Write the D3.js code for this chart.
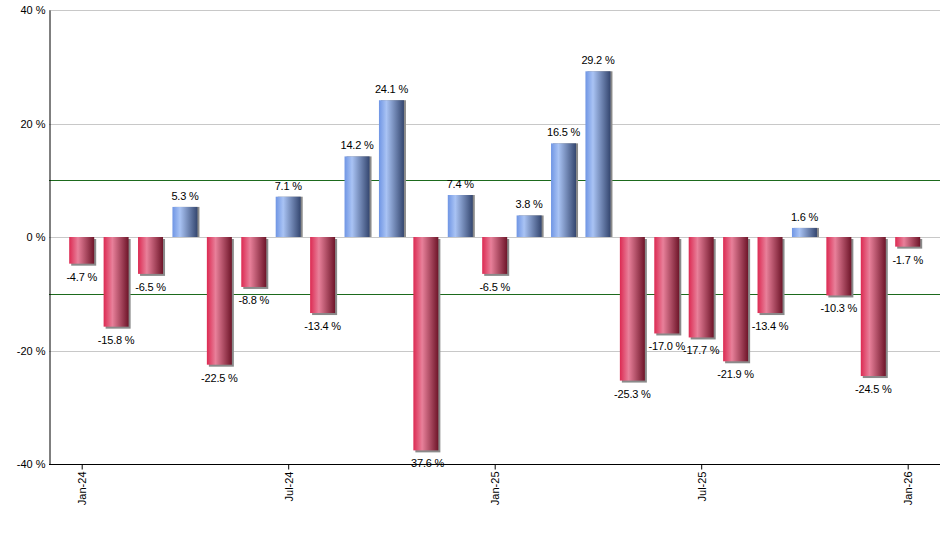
<!DOCTYPE html>
<html><head><meta charset="utf-8">
<script src="https://cdn.jsdelivr.net/npm/d3@7"></script>
<style>
body{margin:0;background:#fff;}
text{font-family:"Liberation Sans",Arial,sans-serif;font-size:11px;fill:#000;}
</style></head>
<body><svg id="c" width="940" height="550"></svg>
<script>
const months = ["Jan-24","Feb-24","Mar-24","Apr-24","May-24","Jun-24","Jul-24","Aug-24","Sep-24","Oct-24","Nov-24","Dec-24",
"Jan-25","Feb-25","Mar-25","Apr-25","May-25","Jun-25","Jul-25","Aug-25","Sep-25","Oct-25","Nov-25","Dec-25","Jan-26"];
const values = [-4.7,-15.8,-6.5,5.3,-22.5,-8.8,7.1,-13.4,14.2,24.1,-37.6,7.4,-6.5,3.8,16.5,29.2,-25.3,-17.0,-17.7,-21.9,-13.4,1.6,-10.3,-24.5,-1.7];
const xTickLabels = ["Jan-24","Jul-24","Jan-25","Jul-25","Jan-26"];
const yTicks = [-40,-20,0,20,40];
const refLines = [-10,10];

const svg = d3.select("#c");
const pLeft = 49, pRight = 940, pTop = 10, pBottom = 464;
const x = d3.scalePoint().domain(months).range([81.7, 907.7]);
const y = d3.scaleLinear().domain([-40,40]).range([pBottom, pTop]);
const bw = 25;
const fmt = v => v.toFixed(1) + " %";

const defs = svg.append("defs");
function grad(id, stops){
  const g = defs.append("linearGradient").attr("id",id).attr("x1","0").attr("x2","1").attr("y1","0").attr("y2","0");
  stops.forEach(s=>g.append("stop").attr("offset",s[0]).attr("stop-color",s[1]));
}
grad("gRed",[[0,"#dc2a52"],[0.35,"#e8809a"],[1,"#6e1529"]]);
grad("gBlue",[[0,"#6f95e4"],[0.3,"#a9c3f4"],[1,"#34466f"]]);

// gridlines
svg.append("g").selectAll("line").data(yTicks.filter(d=>d>-40)).join("line")
  .attr("x1",pLeft).attr("x2",pRight).attr("y1",d=>Math.round(y(d))+0.5).attr("y2",d=>Math.round(y(d))+0.5)
  .attr("stroke","#c8c8c8").attr("stroke-width",1);
svg.append("g").selectAll("line").data(refLines).join("line")
  .attr("x1",pLeft).attr("x2",pRight).attr("y1",d=>Math.round(y(d))+0.5).attr("y2",d=>Math.round(y(d))+0.5)
  .attr("stroke","#1d6a1d").attr("stroke-width",1);

// bars
const bars = svg.append("g");
const data = months.map((m,i)=>({m, v:values[i]}));
bars.selectAll("rect.sh").data(data).join("rect").attr("class","sh")
  .attr("x",d=>x(d.m)-bw/2+2).attr("width",bw)
  .attr("y",d=>Math.min(y(d.v),y(0))+(d.v<0?2:0)).attr("height",d=>Math.abs(y(d.v)-y(0)))
  .attr("fill","#8a8a8a");
bars.selectAll("rect.b").data(data).join("rect").attr("class","b")
  .attr("x",d=>x(d.m)-bw/2).attr("width",bw)
  .attr("y",d=>Math.min(y(d.v),y(0))).attr("height",d=>Math.abs(y(d.v)-y(0)))
  .attr("fill",d=>d.v<0?"url(#gRed)":"url(#gBlue)");

// value labels
svg.append("g").selectAll("text").data(data).join("text")
  .attr("x",d=>x(d.m)).attr("y",d=>d.v>=0? y(d.v)-7 : y(d.v)+17)
  .attr("text-anchor","middle")
  .style("letter-spacing","-0.2px")
  .text(d=>fmt(d.v));

// axes
const yAxis = d3.axisLeft(y).tickValues(yTicks).tickSize(0).tickPadding(4).tickFormat(d=>d+" %");
const gy = svg.append("g").attr("transform",`translate(${pLeft+0.5},0)`).call(yAxis);
gy.select(".domain").attr("stroke","#000");
gy.selectAll("text").attr("font-size",null).attr("font-family",null);

const xAxis = d3.axisBottom(x).tickValues(xTickLabels).tickSize(5).tickSizeOuter(0);
const gx = svg.append("g").attr("transform",`translate(0,${pBottom+0.5})`).call(xAxis);
gx.select(".domain").attr("d",`M${pLeft},0H${pRight}`).attr("stroke","#000");
gx.selectAll(".tick line").attr("stroke","#000");
gx.selectAll("text").attr("font-size",null).attr("font-family",null)
  .attr("transform","rotate(-90)").attr("text-anchor","end")
  .attr("x",-7).attr("y",0).attr("dy","0.35em");
</script></body></html>
